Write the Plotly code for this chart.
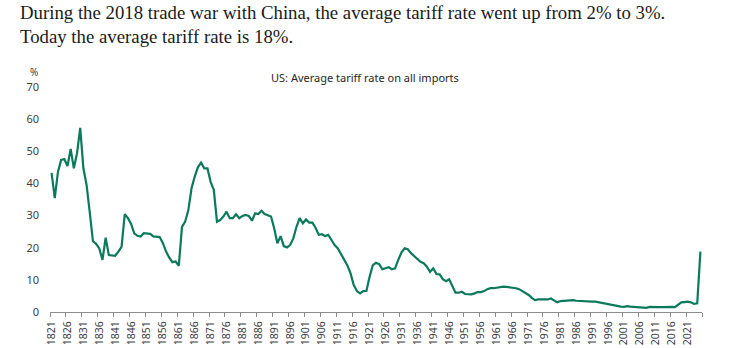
import plotly.graph_objects as go

years = list(range(1821, 2026))

tariff_rate = [
    # 1821-1830
    43.3, 35.4, 43.6, 47.3, 47.6, 45.4, 50.7, 44.7, 49.4, 57.3,
    # 1831-1840
    44.7, 39.5, 31.0, 22.0, 21.2, 19.8, 16.2, 23.1, 17.7, 17.7,
    # 1841-1850
    17.5, 18.8, 20.3, 30.4, 29.2, 27.4, 24.5, 23.7, 23.5, 24.5,
    # 1851-1860
    24.3, 24.3, 23.5, 23.5, 23.3, 21.4, 18.8, 16.9, 15.5, 15.7,
    # 1861-1870
    14.4, 26.5, 28.1, 31.7, 38.5, 42.1, 45.0, 46.5, 44.7, 44.7,
    # 1871-1880
    40.5, 38.0, 28.1, 28.6, 29.7, 31.2, 29.2, 29.2, 30.4, 29.2,
    # 1881-1890
    29.9, 30.2, 29.9, 28.4, 30.7, 30.5, 31.5, 30.5, 30.0, 29.7,
    # 1891-1900
    26.0, 21.4, 23.6, 20.5, 20.1, 20.8, 22.9, 26.5, 29.2, 27.6,
    # 1901-1910
    28.8, 27.8, 27.8, 26.2, 24.0, 24.2, 23.6, 24.0, 22.4, 20.8,
    # 1911-1920
    19.8, 18.0, 16.5, 14.5, 12.0, 8.4, 6.5, 5.8, 6.5, 6.6,
    # 1921-1930
    11.0, 14.6, 15.3, 14.9, 13.3, 13.6, 13.9, 13.3, 13.6, 16.2,
    # 1931-1940
    18.5, 19.8, 19.5, 18.3, 17.4, 16.7, 15.6, 15.2, 14.1, 12.5,
    # 1941-1950
    13.6, 11.8, 11.7, 10.2, 9.6, 10.2, 7.9, 6.0, 6.0, 6.3,
    # 1951-1960
    5.6, 5.5, 5.5, 5.8, 6.2, 6.2, 6.5, 7.1, 7.4, 7.4,
    # 1961-1970
    7.6, 7.7, 7.9, 7.8, 7.7, 7.7, 7.4, 7.1, 6.5, 6.0,
    # 1971-1980
    5.3, 4.4, 3.7, 3.9, 3.9, 3.7, 3.9, 4.2, 3.5, 3.0,
    # 1981-1990
    3.4, 3.5, 3.6, 3.7, 3.7, 3.5, 3.4, 3.4, 3.3, 3.2,
    # 1991-2000
    3.2, 3.2, 3.0, 2.8, 2.5, 2.3, 2.2, 2.0, 1.9, 1.7,
    # 2001-2010
    1.6, 1.8, 1.7, 1.6, 1.6, 1.5, 1.4, 1.3, 1.6, 1.5,
    # 2011-2020
    1.5, 1.5, 1.5, 1.6, 1.6, 1.6, 1.5, 2.2, 3.0, 3.1,
    # 2021-2025
    3.2, 3.0, 2.5, 2.7, 18.8,
]

label_years = years[::5]                      # 1821, 1826, ..., 2021
tick_labels = [str(y) for y in label_years]
boundary_ticks = [y - 0.5 for y in label_years] + [years[-1] + 0.5]

y_ticks = [0, 10, 20, 30, 40, 50, 60, 70]

heading_1 = "During the 2018 trade war with China, the average tariff rate went up from 2% to 3%."
heading_2 = "Today the average tariff rate is 18%."
chart_title = "US: Average tariff rate on all imports"

LINE = "#0b7a5c"
TXT = "#404040"
SANS = "Noto Sans"

fig = go.Figure()
fig.add_trace(go.Scatter(
    x=years, y=tariff_rate, mode="lines",
    line=dict(color=LINE, width=2.2), hoverinfo="x+y", showlegend=False,
))

fig.update_layout(
    width=730, height=348,
    margin=dict(l=50, r=28, t=87, b=36),
    paper_bgcolor="white", plot_bgcolor="white",
    font=dict(family=SANS, color=TXT, size=11),
    xaxis=dict(
        range=[years[0] - 0.5, years[-1] + 0.5],
        tickmode="array", tickvals=label_years, ticktext=tick_labels,
        tickangle=-90, ticks="outside", ticklen=4, tickcolor="rgba(0,0,0,0)",
        tickfont=dict(family=SANS, size=10.5, color=TXT),
        showline=True, linecolor="#8c8c8c", linewidth=1,
        showgrid=False, zeroline=False, automargin=False,
        minor=dict(tickmode="array", tickvals=boundary_ticks, ticks="outside",
                   ticklen=4, tickcolor="#8c8c8c", tickwidth=1, showgrid=False),
        fixedrange=True,
    ),
    yaxis=dict(
        range=[0, 70], tickmode="array", tickvals=y_ticks,
        showgrid=False, zeroline=False, showline=False,
        ticks="", ticklabelstandoff=10, automargin=False,
        tickfont=dict(family=SANS, size=11, color=TXT),
        fixedrange=True,
    ),
    annotations=[
        dict(text=heading_1, xref="paper", yref="paper", x=-0.049, y=1.33,
             xanchor="left", yanchor="middle", showarrow=False,
             font=dict(family="Liberation Serif", size=18.8, color="#1a1a1a")),
        dict(text=heading_2, xref="paper", yref="paper", x=-0.049, y=1.225,
             xanchor="left", yanchor="middle", showarrow=False,
             font=dict(family="Liberation Serif", size=18.8, color="#1a1a1a")),
        dict(text=chart_title, xref="paper", yref="paper", x=0.483, y=1.044,
             xanchor="center", yanchor="middle", showarrow=False,
             font=dict(family=SANS, size=11, color="#262626")),
        dict(text="%", xref="paper", yref="paper", x=-0.0246, y=1.068,
             xanchor="center", yanchor="middle", showarrow=False,
             font=dict(family=SANS, size=10, color=TXT)),
    ],
)

fig.write_html("out.html")
